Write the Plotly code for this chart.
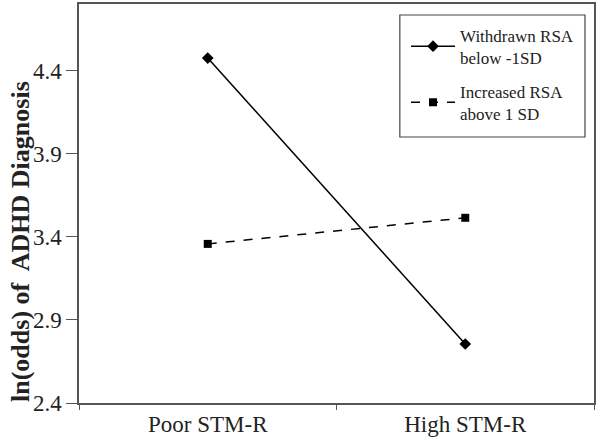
import plotly.graph_objects as go

categories = ["Poor STM-R", "High STM-R"]
withdrawn = [4.475, 2.755]
increased = [3.357, 3.514]
series_names = ["Withdrawn RSA<br>below -1SD", "Increased RSA<br>above 1 SD"]
y_ticks = [2.4, 2.9, 3.4, 3.9, 4.4]
y_title = "ln(odds) of&nbsp; ADHD Diagnosis"

font_family = "Liberation Serif"

fig = go.Figure()
fig.add_trace(go.Scatter(
    x=categories, y=withdrawn, name=series_names[0], mode="lines+markers",
    legendgroup="a",
    line=dict(color="black", width=1.5),
    marker=dict(symbol="diamond", size=9, color="black"),
))
fig.add_trace(go.Scatter(
    x=categories, y=increased, name=series_names[1], mode="lines+markers",
    legendgroup="b",
    line=dict(color="black", width=1.5, dash="dash"),
    marker=dict(symbol="square", size=8, color="black"),
))

fig.update_layout(
    width=600, height=446,
    margin=dict(l=79, r=6, t=4, b=43),
    paper_bgcolor="white", plot_bgcolor="white",
    font=dict(family=font_family, size=23, color="#222"),
    showlegend=True,
    legend=dict(
        x=0.635, y=0.966, xanchor="left", yanchor="top",
        borderwidth=0, bgcolor="rgba(0,0,0,0)",
        font=dict(size=17, family=font_family, color="#222"),
        tracegroupgap=9,
        itemwidth=44,
    ),
    shapes=[dict(
        type="rect", xref="paper", yref="paper",
        x0=0.623, x1=0.9825, y0=0.6667, y1=0.9724,
        line=dict(color="#444", width=1.2), fillcolor="rgba(0,0,0,0)", layer="above",
    )],
    xaxis=dict(
        type="category", range=[-0.5, 1.5], tickson="boundaries",
        ticks="outside", ticklen=5, tickcolor="#555",
        showline=True, linecolor="#555", linewidth=1.5, mirror=True,
        showgrid=False, zeroline=False, automargin=False,
        tickfont=dict(size=23, family=font_family, color="#222"),
    ),
    yaxis=dict(
        range=[2.4, 4.8], tickvals=y_ticks, ticktext=[f"{v:.1f}" for v in y_ticks],
        ticks="outside", ticklen=11, tickcolor="#555",
        showline=True, linecolor="#555", linewidth=1.5, mirror=True,
        showgrid=False, zeroline=False, automargin=False,
        tickfont=dict(size=23, family=font_family, color="#222"),
    ),
    annotations=[dict(
        text=f"<b>{y_title}</b>", textangle=-90,
        xref="paper", yref="paper", x=-0.1146, y=0.406,
        xanchor="center", yanchor="middle", showarrow=False,
        font=dict(size=26, family=font_family, color="#222"),
    )],
)

fig.write_html("out.html", config={"displayModeBar": False},
               post_script="document.body.style.margin='0';")
